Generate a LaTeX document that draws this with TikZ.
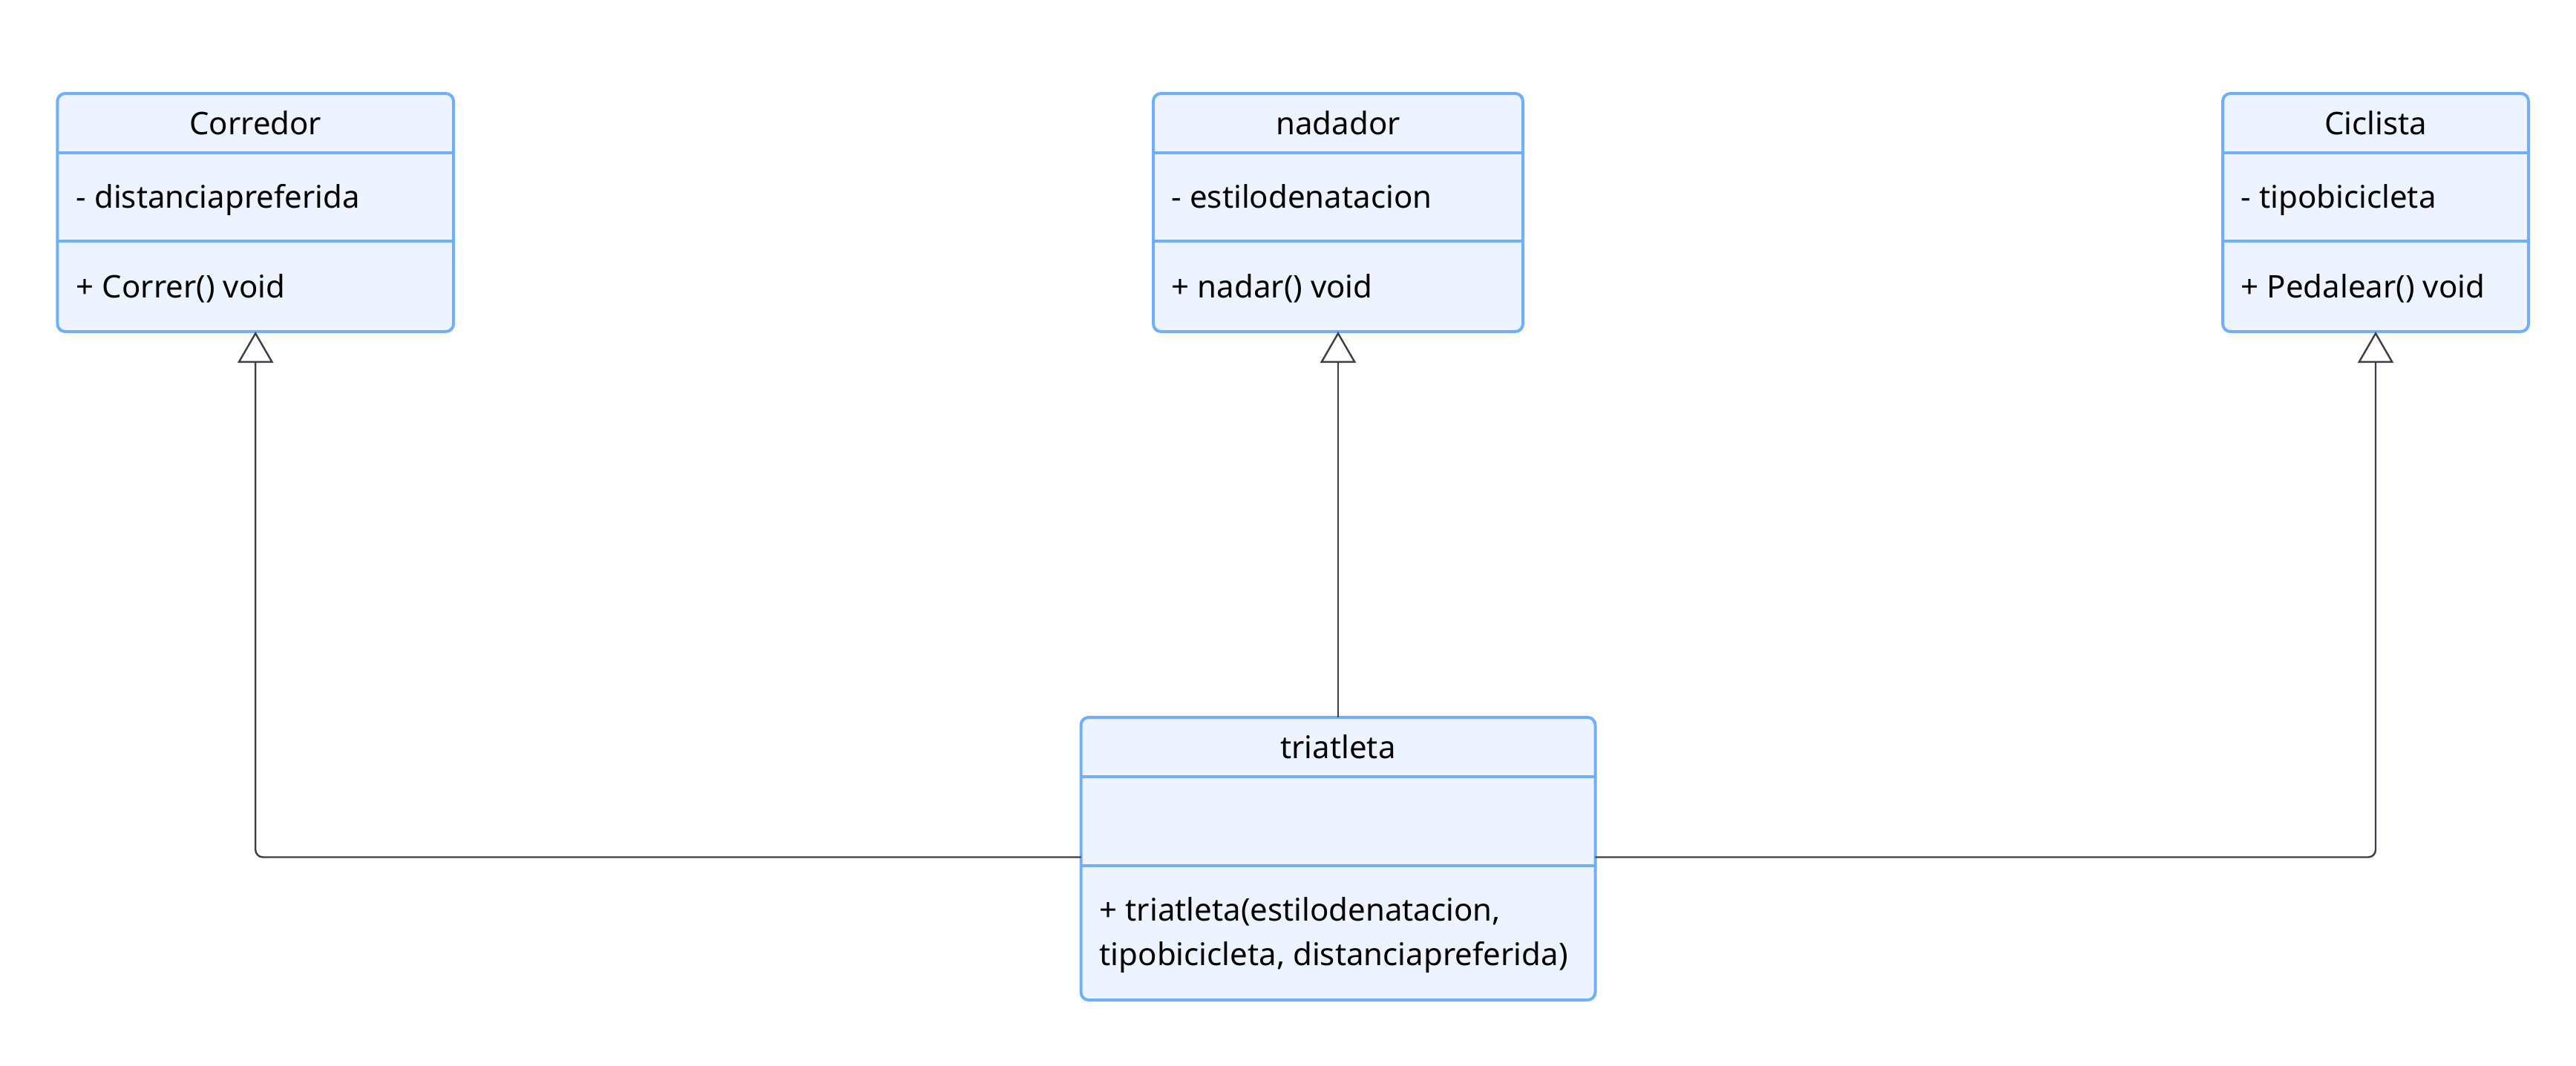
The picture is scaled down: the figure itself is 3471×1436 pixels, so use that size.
\documentclass[tikz,border=0pt]{standalone}
\usepackage{fontspec}
\setmainfont{Noto Sans}
\usetikzlibrary{arrows.meta}
\definecolor{classfill}{HTML}{EDF4FF}
\definecolor{classline}{HTML}{6EB0FF}
\definecolor{linkline}{HTML}{3B3E47}
\begin{document}
\begin{tikzpicture}[x=0.25pt,y=-0.25pt,
  classbox/.style={draw=classline, fill=classfill, line width=1pt,
    rounded corners=2.6pt, inner sep=0pt, outer sep=0pt},
  divider/.style={draw=classline, line width=1pt},
  txt/.style={inner sep=0pt, font=\fontsize{10.5pt}{12.6pt}\selectfont},
  title/.style={txt, anchor=base},
  member/.style={txt, anchor=base west},
  inherit/.style={draw=linkline, line width=0.6pt, rounded corners=2.5pt,
    -{Triangle[open, length=10.5pt, width=12pt, fill=white]}}
]
\useasboundingbox (0,0) rectangle (3471,1436);

% class boxes
\node[classbox, minimum width=133.4pt, minimum height=80.25pt] (corredor) at (344.25,286.5) {};
\node[classbox, minimum width=124.5pt, minimum height=80.25pt] (nadador) at (1803,286.5) {};
\node[classbox, minimum width=103pt, minimum height=80.25pt] (ciclista) at (3201,286.5) {};
\node[classbox, minimum width=173.25pt, minimum height=95.25pt] (triatleta) at (1803,1157.5) {};

% compartment dividers
\foreach \c in {corredor,nadador,ciclista}{
  \draw[divider] (\c.west |- 0,206) -- (\c.east |- 0,206);
  \draw[divider] (\c.west |- 0,325) -- (\c.east |- 0,325);
}
\draw[divider] (triatleta.west |- 0,1047) -- (triatleta.east |- 0,1047);
\draw[divider] (triatleta.west |- 0,1166.5) -- (triatleta.east |- 0,1166.5);

% Corredor
\node[title] (corredor-name) at (344.25,181) {Corredor};
\node[member] (corredor-attr) at (102,280.5) {- distanciapreferida};
\node[member] (corredor-op) at (102,401) {+ Correr() void};

% nadador
\node[title] (nadador-name) at (1803,181) {nadador};
\node[member] (nadador-attr) at (1578,280.5) {- estilodenatacion};
\node[member] (nadador-op) at (1578,401) {+ nadar() void};

% Ciclista
\node[title] (ciclista-name) at (3201,181) {Ciclista};
\node[member] (ciclista-attr) at (3019,280.5) {- tipobicicleta};
\node[member] (ciclista-op) at (3019,401) {+ Pedalear() void};

% triatleta
\node[title] (triatleta-name) at (1803,1022) {triatleta};
\node[member] (triatleta-op1) at (1481,1241) {+ triatleta(estilodenatacion,};
\node[member] (triatleta-op2) at (1481,1301) {tipobicicleta, distanciapreferida)};

% generalisations
\draw[inherit] (triatleta.west |- 0,1155.5) -| (corredor.south);
\draw[inherit] (triatleta.north) -- (nadador.south);
\draw[inherit] (triatleta.east |- 0,1155.5) -| (ciclista.south);
\end{tikzpicture}
\end{document}
